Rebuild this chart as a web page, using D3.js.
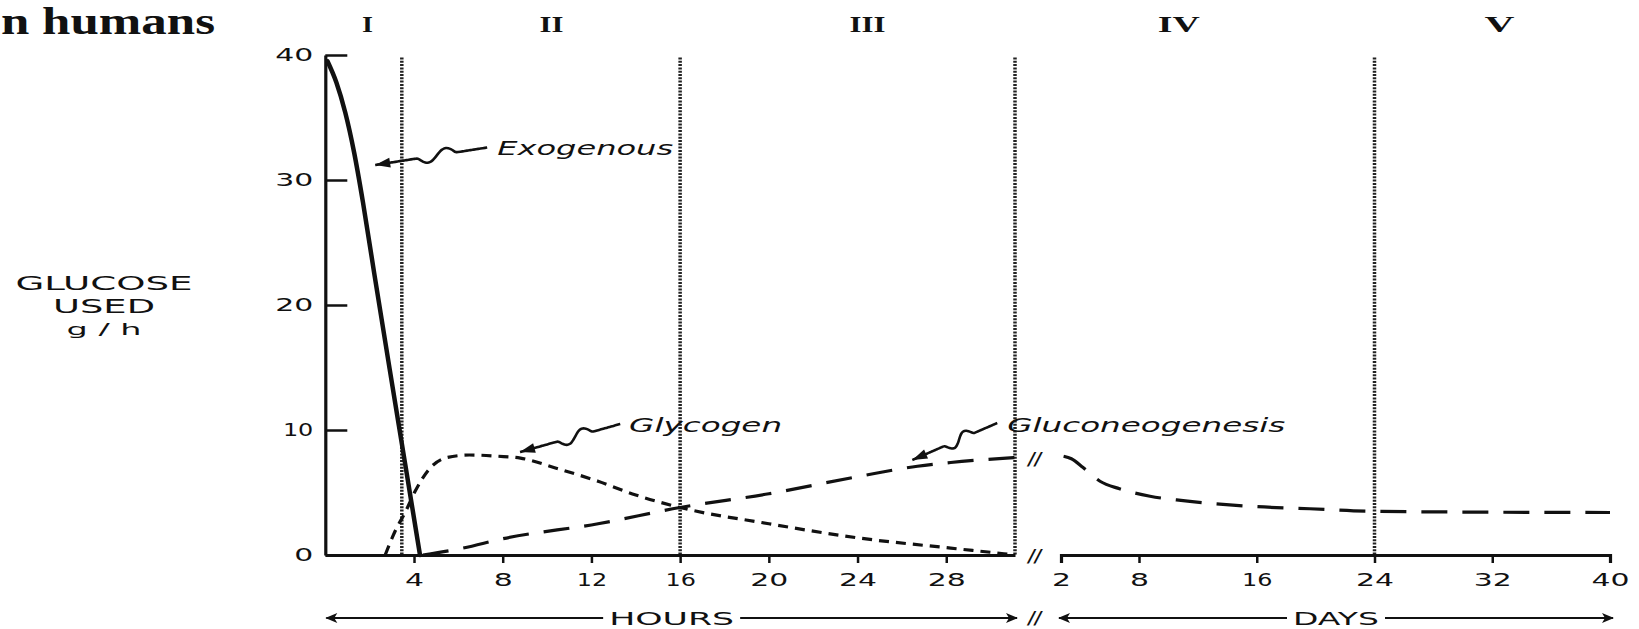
<!DOCTYPE html>
<html>
<head>
<meta charset="utf-8">
<script src="https://cdnjs.cloudflare.com/ajax/libs/d3/7.8.5/d3.min.js"></script>
<style>
  body { margin: 0; background: #fff; }
  svg { display: block; }
</style>
</head>
<body>
<svg id="chart" width="1639" height="629"></svg>
<script>
// ---- data ----
var yTicks = [0, 10, 20, 30, 40];
var hourTicks = [4, 8, 12, 16, 20, 24, 28];
var dayTicks = [2, 8, 16, 24, 32, 40];
var phaseNames = ["I", "II", "III", "IV", "V"];
var phaseAt = [["h", 1.9], ["h", 10.2], ["h", 24.45], ["d", 10.7], ["d", 32.5]];
var hourDividers = [3.45, 16, 31.1];
var dayDividers = [24];

// glucose used (g/h): [hours, value] or [days, value]
var exogenous = [[0.1, 39.5], [0.5, 37.8], [0.9, 35.4], [1.3, 32.2], [1.7, 28.2], [2.2, 22.6],
                 [2.9, 14.9], [3.6, 7.3], [4.27, 0]];
var glycogen = [[2.7, 0], [3.2, 2.1], [3.6, 3.4], [4.05, 5.1], [4.7, 6.9], [5.5, 7.8], [6.5, 8.0],
                [7.8, 7.9], [8.8, 7.75], [10.5, 6.9], [12.3, 5.9], [14, 4.8], [16, 3.8], [20, 2.5],
                [24.1, 1.35], [28.2, 0.55], [30.6, 0.1], [31.1, 0]];
var gluconeoHours = [[4.4, 0], [6.2, 0.55], [8, 1.3], [12.3, 2.5], [16, 3.8], [20, 4.9], [24.1, 6.3],
                     [26.7, 7.1], [28.2, 7.4], [31.1, 7.8]];
var gluconeoDays = [[2.2, 7.9], [2.8, 7.7], [3.7, 7.0], [5, 5.9], [6.5, 5.3], [8.75, 4.7], [11, 4.35],
                    [15.5, 3.9], [19.6, 3.7], [23.5, 3.5], [28, 3.45], [40, 3.4]];

var notes = [
  {text: "Exogenous", at: ["h", 7.75, 32], from: ["h", 7.3, 32.6], tip: ["h", 2.25, 31.2], len: 176},
  {text: "Glycogen", at: ["h", 13.7, 9.84], from: ["h", 13.3, 10.48], tip: ["h", 8.78, 8.24], len: 153},
  {text: "Gluconeogenesis", at: ["h", 30.75, 9.84], from: ["h", 30.3, 10.56], tip: ["h", 26.47, 7.6], len: 278}
];

// ---- scales ----
var xh = d3.scaleLinear().domain([0, 31.1]).range([325.3, 1015]);
var xd = d3.scaleLinear().domain([2, 8, 40]).range([1061, 1139, 1610]);
var y = d3.scaleLinear().domain([0, 40]).range([555, 55]);
var xOf = function (k, v) { return k === "h" ? xh(v) : xd(v); };

var ink = "#111";
var svg = d3.select("#chart");
var wide = "DejaVu Sans, Verdana, sans-serif";

function charLen(s, w) {
  var n = 0;
  for (var i = 0; i < s.length; i++) n += (s[i] === "1" ? w * 0.6 : w);
  return n;
}

// title fragment
svg.append("text")
    .attr("x", 1).attr("y", 34)
    .attr("textLength", 214).attr("lengthAdjust", "spacingAndGlyphs")
    .style("font-family", "Liberation Serif, Times New Roman, serif")
    .style("font-weight", "bold").style("font-size", "37px")
    .attr("fill", ink)
    .text("n humans");

// phase numerals
var numLen = {"I": 11, "II": 24, "III": 36, "IV": 42, "V": 30};
svg.selectAll("text.phase").data(phaseNames).enter()
    .append("text").attr("class", "phase")
    .attr("x", function (d, i) { return xOf(phaseAt[i][0], phaseAt[i][1]); })
    .attr("y", 32)
    .attr("text-anchor", "middle")
    .attr("textLength", function (d) { return numLen[d]; })
    .attr("lengthAdjust", "spacingAndGlyphs")
    .style("font-family", "Liberation Serif, Times New Roman, serif")
    .style("font-weight", "bold").style("font-size", "23px")
    .attr("fill", ink)
    .text(function (d) { return d; });

// dotted phase dividers
var dividers = hourDividers.map(function (h) { return xh(h); })
    .concat(dayDividers.map(function (d) { return xd(d); }));
svg.selectAll("line.divider").data(dividers).enter()
    .append("line").attr("class", "divider")
    .attr("x1", function (d) { return d; }).attr("x2", function (d) { return d; })
    .attr("y1", y(39.8)).attr("y2", y(0))
    .attr("stroke", "#222").attr("stroke-width", 3.5)
    .attr("stroke-dasharray", "2,1.3");

// y axis
var yAxis = svg.append("g")
    .attr("transform", "translate(" + xh(0) + ",0)")
    .call(d3.axisLeft(y).tickValues(yTicks).tickSize(-22).tickSizeOuter(0).tickPadding(12));

// hours axis
var hAxis = svg.append("g")
    .attr("transform", "translate(0," + y(0) + ")")
    .call(d3.axisBottom(xh).tickValues(hourTicks).tickSize(8).tickSizeOuter(0).tickPadding(11));

// days axis
var dAxis = svg.append("g")
    .attr("transform", "translate(0," + y(0) + ")")
    .call(d3.axisBottom(xd).tickValues(dayTicks).tickSize(8).tickSizeOuter(8).tickPadding(11));

[yAxis, hAxis, dAxis].forEach(function (g) {
  g.select(".domain").attr("stroke", ink).attr("stroke-width", 3.2);
  g.selectAll(".tick line").attr("stroke", ink).attr("stroke-width", 2.5);
  g.selectAll(".tick text")
      .attr("fill", ink)
      .style("font-family", wide).style("font-size", "17px")
      .attr("textLength", function (d) { return charLen(String(d), 19); })
      .attr("lengthAdjust", "spacingAndGlyphs");
});
yAxis.selectAll(".tick text").style("font-size", "18px");

// y axis title
var yTitle = [["GLUCOSE", 290, 177, 20], ["USED", 313, 102, 20], ["g / h", 335, 75, 16]];
svg.selectAll("text.ytitle").data(yTitle).enter()
    .append("text").attr("class", "ytitle")
    .attr("x", 104).attr("y", function (d) { return d[1]; })
    .attr("text-anchor", "middle")
    .attr("textLength", function (d) { return d[2]; })
    .attr("lengthAdjust", "spacingAndGlyphs")
    .style("font-family", wide).style("font-size", function (d) { return d[3] + "px"; })
    .attr("fill", ink)
    .text(function (d) { return d[0]; });

// curves
var lineH = d3.line().x(function (d) { return xh(d[0]); }).y(function (d) { return y(d[1]); })
    .curve(d3.curveMonotoneX);
var lineD = d3.line().x(function (d) { return xd(d[0]); }).y(function (d) { return y(d[1]); })
    .curve(d3.curveMonotoneX);

svg.append("path").datum(exogenous)
    .attr("d", lineH).attr("fill", "none")
    .attr("stroke", ink).attr("stroke-width", 4.5).attr("stroke-linecap", "round");

svg.append("path").datum(glycogen)
    .attr("d", lineH).attr("fill", "none")
    .attr("stroke", ink).attr("stroke-width", 3.2)
    .attr("stroke-dasharray", "10,7");

svg.append("path").datum(gluconeoHours)
    .attr("d", lineH).attr("fill", "none")
    .attr("stroke", ink).attr("stroke-width", 3.2)
    .attr("stroke-dasharray", "26,15");

svg.append("path").datum(gluconeoDays)
    .attr("d", lineD).attr("fill", "none")
    .attr("stroke", ink).attr("stroke-width", 3.2)
    .attr("stroke-dasharray", "26,15");

// break marks
var breakX = (xh(31.1) + xd(2)) / 2 - 3;
[y(7.8) + 7, y(0) + 7, 624].forEach(function (by) {
  svg.append("text")
      .attr("x", breakX).attr("y", by)
      .attr("text-anchor", "middle")
      .style("font-family", wide).style("font-style", "italic")
      .style("font-weight", "bold").style("font-size", "18px")
      .attr("fill", ink)
      .text("//");
});

// annotations with wavy arrows
function squiggle(x0, y0, x1, y1) {
  var dx = x1 - x0, dy = y1 - y0, L = Math.sqrt(dx * dx + dy * dy);
  var nx = -dy / L, ny = dx / L;
  return d3.range(0, 1.0001, 0.02).map(function (t) {
    var w = (t > 0.28 && t < 0.62) ? 6 * Math.sin(2 * Math.PI * (t - 0.28) / 0.34) : 0;
    return [x0 + dx * t + nx * w, y0 + dy * t + ny * w];
  });
}
notes.forEach(function (n) {
  var tx = xOf(n.at[0], n.at[1]), ty = y(n.at[2]);
  var x0 = xOf(n.from[0], n.from[1]), y0 = y(n.from[2]);
  var x1 = xOf(n.tip[0], n.tip[1]), y1 = y(n.tip[2]);
  svg.append("text")
      .attr("x", tx).attr("y", ty)
      .attr("textLength", n.len).attr("lengthAdjust", "spacingAndGlyphs")
      .style("font-family", wide).style("font-style", "italic").style("font-size", "19px")
      .attr("fill", ink)
      .text(n.text);
  svg.append("path")
      .attr("d", d3.line().curve(d3.curveBasis)(squiggle(x0, y0, x1, y1)))
      .attr("fill", "none").attr("stroke", ink).attr("stroke-width", 2.6);
  var ang = Math.atan2(y1 - y0, x1 - x0);
  var hl = 15, hw = 5;
  var bx = x1 - hl * Math.cos(ang), by = y1 - hl * Math.sin(ang);
  svg.append("path")
      .attr("d", "M" + x1 + "," + y1 +
                 "L" + (bx - hw * Math.sin(ang)) + "," + (by + hw * Math.cos(ang)) +
                 "L" + (bx + hw * Math.sin(ang)) + "," + (by - hw * Math.cos(ang)) + "Z")
      .attr("fill", ink);
});

// bottom HOURS / DAYS arrows
svg.append("defs").append("marker")
    .attr("id", "arr").attr("viewBox", "0 0 12 10")
    .attr("refX", 11).attr("refY", 5)
    .attr("markerWidth", 13).attr("markerHeight", 10)
    .attr("markerUnits", "userSpaceOnUse")
    .attr("orient", "auto-start-reverse")
    .append("path").attr("d", "M0,0 L12,5 L0,10 L3,5 Z").attr("fill", ink);

var arrowY = 618;
var spans = [
  {label: "HOURS", x0: xh(0) + 1, x1: xh(31.1) + 2, len: 125},
  {label: "DAYS", x0: xd(2) - 2, x1: xd(40) + 3, len: 86}
];
spans.forEach(function (s) {
  var cx = (s.x0 + s.x1) / 2;
  svg.append("text")
      .attr("x", cx).attr("y", arrowY + 7)
      .attr("text-anchor", "middle")
      .attr("textLength", s.len).attr("lengthAdjust", "spacingAndGlyphs")
      .style("font-family", wide).style("font-size", "18px")
      .attr("fill", ink)
      .text(s.label);
  svg.append("line")
      .attr("x1", cx - s.len / 2 - 6).attr("x2", s.x0).attr("y1", arrowY).attr("y2", arrowY)
      .attr("stroke", ink).attr("stroke-width", 2.2).attr("marker-end", "url(#arr)");
  svg.append("line")
      .attr("x1", cx + s.len / 2 + 6).attr("x2", s.x1).attr("y1", arrowY).attr("y2", arrowY)
      .attr("stroke", ink).attr("stroke-width", 2.2).attr("marker-end", "url(#arr)");
});
</script>
</body>
</html>
